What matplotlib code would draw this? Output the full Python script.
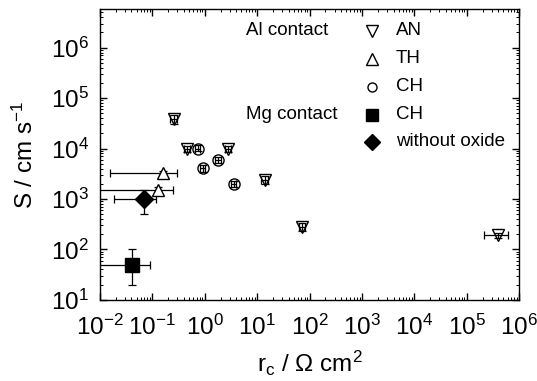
import matplotlib
matplotlib.use('Agg')
import matplotlib.pyplot as plt
from matplotlib.ticker import LogLocator, NullFormatter

plt.rcParams['font.family'] = ['Liberation Sans', 'DejaVu Sans']
plt.rcParams['mathtext.fontset'] = 'custom'
plt.rcParams['mathtext.rm'] = 'Liberation Sans'
plt.rcParams['mathtext.it'] = 'Liberation Sans:italic'

# Al contact, AN
an_x = [0.26, 0.46, 2.8, 14, 72, 4.0e5]
an_y = [3.8e4, 1.0e4, 1.0e4, 2.4e3, 280, 190]
an_xlo = [0.22, 0.40, 2.4, 12, 62, 2.1e5]
an_xhi = [0.30, 0.52, 3.2, 16, 82, 6.2e5]
an_ylo = [3.0e4, 8.5e3, 8.5e3, 2.0e3, 230, 165]
an_yhi = [4.6e4, 1.1e4, 1.1e4, 2.8e3, 330, 215]

# Al contact, TH
th_x = [0.16, 0.13]
th_y = [3.2e3, 1.5e3]
th_xlo = [0.0155, 0.005]
th_xhi = [0.295, 0.25]
th_ylo = [2.8e3, 1.3e3]
th_yhi = [3.6e3, 1.7e3]

# Al contact, CH
ch_x = [0.74, 0.92, 1.8, 3.6]
ch_y = [1.0e4, 4.1e3, 6.0e3, 2.0e3]
ch_xlo = [0.66, 0.82, 1.6, 3.2]
ch_xhi = [0.82, 1.02, 2.0, 4.0]
ch_ylo = [8.8e3, 3.5e3, 5.2e3, 1.7e3]
ch_yhi = [1.15e4, 4.7e3, 6.8e3, 2.3e3]

# Mg contact, CH
mg_x = [0.041]
mg_y = [50]
mg_xlo = [0.005]
mg_xhi = [0.09]
mg_ylo = [20]
mg_yhi = [100]

# without oxide
wo_x = [0.069]
wo_y = [1000]
wo_xlo = [0.019]
wo_xhi = [0.12]
wo_ylo = [500]
wo_yhi = [1500]


def draw(ax, x, y, xlo, xhi, ylo, yhi, marker, face, size):
    xerr = [[a - b for a, b in zip(x, xlo)], [b - a for a, b in zip(x, xhi)]]
    yerr = [[a - b for a, b in zip(y, ylo)], [b - a for a, b in zip(y, yhi)]]
    ax.errorbar(x, y, xerr=xerr, yerr=yerr, fmt='none', ecolor='black',
                elinewidth=0.9, capsize=3, capthick=0.9, zorder=2)
    ax.plot(x, y, linestyle='none', marker=marker, markersize=size,
            markerfacecolor=face, markeredgecolor='black', markeredgewidth=1.0,
            zorder=3)


fig = plt.figure(figsize=(5.37, 3.81), dpi=100)
ax = fig.add_axes([0.186, 0.213, 0.781, 0.763])

draw(ax, an_x, an_y, an_xlo, an_xhi, an_ylo, an_yhi, 'v', 'none', 9)
draw(ax, th_x, th_y, th_xlo, th_xhi, th_ylo, th_yhi, '^', 'white', 9)
draw(ax, ch_x, ch_y, ch_xlo, ch_xhi, ch_ylo, ch_yhi, 'o', 'none', 8)
draw(ax, mg_x, mg_y, mg_xlo, mg_xhi, mg_ylo, mg_yhi, 's', 'black', 10)
draw(ax, wo_x, wo_y, wo_xlo, wo_xhi, wo_ylo, wo_yhi, 'D', 'black', 9)

ax.set_xscale('log')
ax.set_yscale('log')
ax.set_xlim(1e-2, 1e6)
ax.set_ylim(10, 5.8e6)

ax.xaxis.set_major_locator(LogLocator(base=10, numticks=20))
ax.xaxis.set_minor_locator(LogLocator(base=10, subs=range(2, 10), numticks=20))
ax.xaxis.set_minor_formatter(NullFormatter())
ax.set_yticks([1e1, 1e2, 1e3, 1e4, 1e5, 1e6])
ax.yaxis.set_minor_locator(LogLocator(base=10, subs=range(2, 10), numticks=20))
ax.yaxis.set_minor_formatter(NullFormatter())

ax.tick_params(which='both', direction='in', top=True, right=True, labelsize=17.5)
ax.tick_params(which='major', length=5, width=1)
ax.tick_params(which='minor', length=2.5, width=0.7)
ax.tick_params(axis='x', which='major', pad=11)
ax.tick_params(axis='y', which='major', pad=8)
for s in ax.spines.values():
    s.set_linewidth(1)

ax.set_xlabel(r'r$_\mathrm{c}$ / $\Omega$ cm$^2$', fontsize=17.5, labelpad=6)
ax.set_ylabel(r'S / cm s$^{-1}$', fontsize=17.5, labelpad=9)

# legend drawn as text rows
leg_y = [0.925, 0.829, 0.733, 0.636, 0.543]
leg_m = ['v', '^', 'o', 's', 'D']
leg_f = ['none', 'none', 'none', 'black', 'black']
leg_s = [8, 8, 6.5, 8, 8]
leg_t = ['AN', 'TH', 'CH', 'CH', 'without oxide']
for yy, m, f, sz, t in zip(leg_y, leg_m, leg_f, leg_s, leg_t):
    ax.plot([0.650], [yy], transform=ax.transAxes, marker=m, markersize=sz,
            markerfacecolor=f, markeredgecolor='black', linestyle='none')
    ax.text(0.706, yy, t, transform=ax.transAxes, fontsize=13.5, va='center')
ax.text(0.349, leg_y[0], 'Al contact', transform=ax.transAxes, fontsize=13.5, va='center')
ax.text(0.349, leg_y[3], 'Mg contact', transform=ax.transAxes, fontsize=13.5, va='center')

fig.savefig('out.png', dpi=100)
